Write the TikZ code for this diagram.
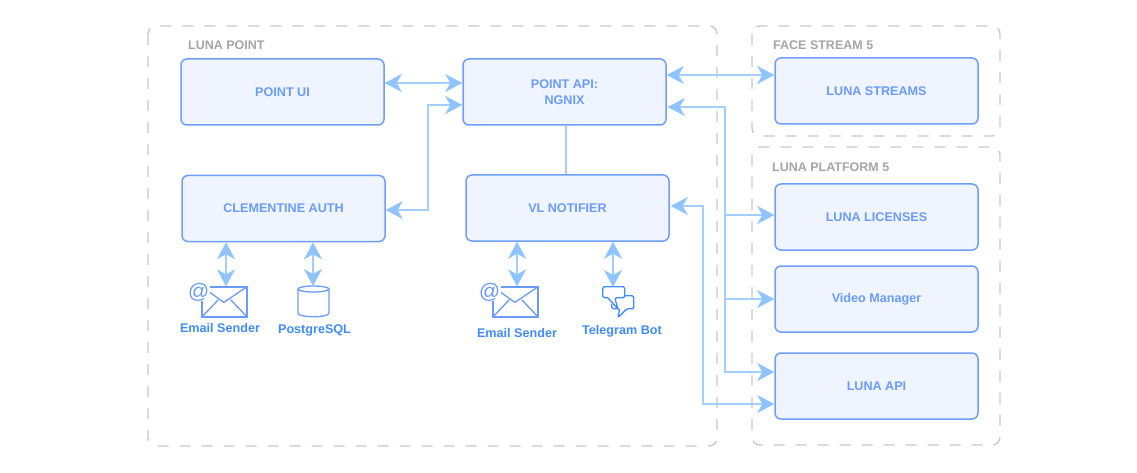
\documentclass[tikz,border=0pt]{standalone}
\usepackage{fontspec}
\setmainfont{Liberation Sans}
\usetikzlibrary{arrows.meta,calc}
\definecolor{boxedge}{HTML}{6E9FFF}
\definecolor{boxfill}{HTML}{EFF4FE}
\definecolor{boxtext}{HTML}{6A9CFF}
\definecolor{wire}{HTML}{A3CFFF}
\definecolor{tipc}{HTML}{8FC4FF}
\definecolor{iconc}{HTML}{6A9CFF}
\definecolor{labelc}{HTML}{3F8CFF}
\definecolor{groupc}{HTML}{C8C8C8}
\definecolor{grouptext}{HTML}{A6A6A6}
\tikzset{
  svc/.style={draw=boxedge,fill=boxfill,line width=1.5pt,rounded corners=6pt,minimum width=203pt,minimum height=66pt,inner sep=0pt,align=center,text=boxtext,font=\fontsize{12.6}{16}\selectfont\bfseries},
  grp/.style={draw=groupc,line width=1.4pt,rounded corners=8pt,dash pattern=on 11pt off 11pt},
  grplabel/.style={anchor=west,inner sep=0pt,text=grouptext,font=\fontsize{12.5}{14}\selectfont\bfseries},
  iconlabel/.style={inner sep=0pt,text=labelc,font=\fontsize{12.6}{14}\selectfont\bfseries},
  wireline/.style={draw=wire,line width=1.5pt},
  both/.style={wireline,{Stealth[length=17pt,width=18pt,inset=5pt,color=tipc]}-{Stealth[length=17pt,width=18pt,inset=5pt,color=tipc]}},
  tohead/.style={wireline,-{Stealth[length=17pt,width=18pt,inset=5pt,color=tipc]}},
  iconline/.style={draw=iconc,line width=1.3pt,line join=round},
  anchorbox/.style={inner sep=0pt,minimum width=#1,minimum height=30pt}
}
\begin{document}
\begin{tikzpicture}[x=1pt,y=-1pt]
\useasboundingbox (0,0) rectangle (1137,473);
\fill[white] (0,0) rectangle (1137,473);
% groups
\draw[grp] (148,26) rectangle (717,446);
\draw[grp] (752,26) rectangle (1000,136);
\draw[grp] (752,147) rectangle (1000,445);
\node[grplabel] (g1) at (188,45.5) {LUNA POINT};
\node[grplabel] (g2) at (773,45.5) {FACE STREAM 5};
\node[grplabel] (g3) at (772,167) {LUNA PLATFORM 5};
% boxes
\node[svc] (ui) at (282.5,92) {POINT UI};
\node[svc] (api) at (564.5,92) {POINT API:\\NGNIX};
\node[svc] (auth) at (283.5,208.5) {CLEMENTINE AUTH};
\node[svc] (vl) at (567.5,208) {VL NOTIFIER};
\node[svc] (streams) at (876.5,91) {LUNA STREAMS};
\node[svc] (lic) at (876.5,217) {LUNA LICENSES};
\node[svc] (vm) at (876.5,299) {Video Manager};
\node[svc] (lapi) at (876.5,386) {LUNA API};
% mail icons
\node[anchorbox=45pt,iconline,draw,fill=white] (mail1) at (224.5,302) {};
\node[anchorbox=45pt,iconline,draw,fill=white] (mail2) at (515.5,302) {};
\foreach \m in {mail1,mail2}{
  \draw[iconline] (\m.north west) -- ($(\m.north west)+(22.5,16)$) -- (\m.north east);
  \draw[iconline] (\m.south west) -- ($(\m.south west)+(17,-18)$);
  \draw[iconline] (\m.south east) -- ($(\m.south east)+(-17,-18)$);
  \node[inner sep=0.5pt,fill=white,text=iconc,font=\fontsize{21}{21}\selectfont\itshape] at ($(\m.north west)+(-3,5.5)$) {@};
}
% cylinder
\node[inner sep=0pt,minimum width=31pt,minimum height=30pt] (pg) at (313.5,301) {};
\draw[iconline,fill=white] (298,289) -- (298,313) .. controls (298,318) and (329,318) .. (329,313) -- (329,289);
\draw[iconline,fill=white] (313.5,289) ellipse [x radius=15.5,y radius=3];
% telegram icon
\node[inner sep=0pt,minimum width=32pt,minimum height=31pt] (tg) at (619,302.5) {};
\begin{scope}[shift={(tg.north west)}]
\draw[draw=labelc,line width=1.3pt,line join=round,rounded corners=1.5pt] (22,9) -- (31,9) -- (31,22) -- (24,22) -- (15,31) -- (17,22) -- (9,22) -- (9,17);
\draw[draw=labelc,line width=1.3pt,line join=round,rounded corners=1.5pt] (5,11) -- (0,11) -- (0,0) -- (22,0) -- (22,11) -- (12,11) -- (15,22) -- (5,11);
\end{scope}
% labels
\node[iconlabel] (t1) at (220,328) {Email Sender};
\node[iconlabel] (t2) at (314.5,330.5) {PostgreSQL};
\node[iconlabel] (t3) at (517,332.5) {Email Sender};
\node[iconlabel] (t4) at (622,331) {Telegram Bot};
% wires
\draw[both] (ui.east |- 0,83) -- (api.west |- 0,83);
\draw[both] (auth.east |- 0,210) -- (428,210) |- (api.west |- 0,105);
\draw[wireline] (api.south -| 566,0) -- (vl.north -| 566,0);
\draw[both] (api.east |- 0,75) -- (streams.west |- 0,75);
\draw[tohead] (725,215) -- (lic.west |- 0,215);
\draw[tohead] (725,299) -- (vm.west);
\draw[both] ([xshift=1pt]api.east |- 0,107) -- (725,107) |- (lapi.west |- 0,372);
\draw[both] ([xshift=1pt]vl.east |- 0,206) -- (703,206) |- (lapi.west |- 0,404);
\draw[both] (auth.south -| 226,0) -- (mail1.north -| 226,0);
\draw[both] (auth.south -| 313,0) -- (313,286);
\draw[both] (vl.south -| 517,0) -- (mail2.north -| 517,0);
\draw[both] (vl.south -| 613,0) -- (613,287);
\end{tikzpicture}
\end{document}
